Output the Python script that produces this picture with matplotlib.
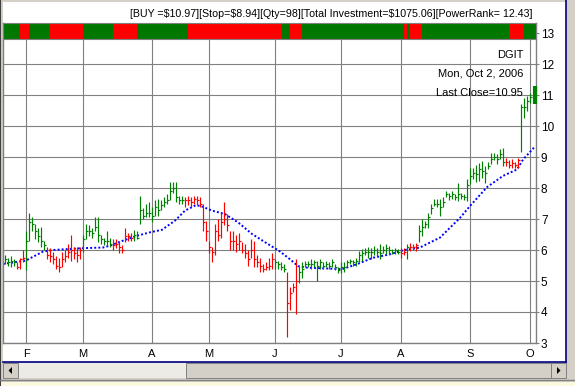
import numpy as np
import matplotlib
matplotlib.use('Agg')
import matplotlib.pyplot as plt
from matplotlib.patches import Rectangle, Polygon

W, H = 575, 386
plt.rcParams['font.family'] = ['Liberation Sans', 'DejaVu Sans']

# daily bars, Jan 23 2006 .. Oct 2 2006 (one entry per trading day)
highs = [5.85, 5.75, 5.8, 5.7, 5.6, 5.75, 6.0,
         6.6, 7.2, 7.05, 6.85, 6.7, 6.75, 6.3, 6.1, 6.05, 5.95, 5.8, 5.75, 5.95, 6.0, 6.2, 6.5, 6.1, 6.1, 6.1,
         6.5, 6.85, 6.8, 6.7, 7.05, 7.05, 6.5, 6.4, 6.6, 6.4, 6.35, 6.35, 6.3, 6.15, 6.7, 6.55, 6.55, 6.65, 6.6, 7.75, 7.35, 7.5, 7.55,
         7.4, 7.6, 7.65, 7.6, 7.7, 7.8, 8.2, 8.2, 8.2, 7.75, 7.75, 7.7, 7.75, 7.7, 7.75, 7.75, 7.7, 7.5, 6.95,
         6.3, 6.1, 6.85, 7.0, 7.2, 7.55, 7.15, 6.6, 6.6, 6.5, 6.55, 6.25, 6.2, 6.0, 6.35, 6.3, 5.85, 5.75, 5.55, 5.6, 5.75, 5.9,
         5.7, 5.65, 5.6, 5.55, 5.3, 4.8, 4.95, 5.7, 5.5, 5.6, 5.65, 5.65, 5.7, 5.67, 5.65, 5.7, 5.6, 5.65, 5.6, 5.7, 5.55, 5.45,
         5.6, 5.6, 5.68, 5.7, 5.68, 5.75, 5.97, 6.02, 6.07, 6.1, 6.07, 6.13, 6.07, 6.18, 6.13, 6.18, 6.13, 6.02, 6.07, 6.02,
         6.07, 6.05, 6.2, 6.24, 6.2, 6.24, 6.8, 7.0, 6.95, 7.2, 7.5, 7.63, 7.65, 7.63, 7.7, 7.9, 7.85, 7.9, 7.8, 8.17, 7.85, 7.8, 8.28,
         8.65, 8.65, 8.75, 8.82, 8.87, 8.7, 8.85, 9.14, 9.14, 9.1, 9.25, 9.3, 8.98, 8.9, 8.95, 8.85, 8.98, 10.7, 10.9, 10.97, 11.06]
lows = [5.55, 5.5, 5.45, 5.5, 5.4, 5.4, 5.6,
        5.35, 6.3, 6.6, 6.35, 6.25, 6.1, 6.0, 5.7, 5.6, 5.55, 5.4, 5.3, 5.45, 5.6, 5.75, 5.65, 5.7, 5.6, 5.7,
        5.95, 6.35, 6.45, 6.4, 6.6, 6.25, 6.2, 6.15, 6.15, 6.1, 6.0, 6.05, 5.9, 5.9, 6.25, 6.3, 6.3, 6.3, 6.35, 6.85, 7.0, 7.05, 7.05,
        6.9, 7.1, 7.1, 7.3, 7.4, 7.5, 7.6, 7.85, 7.55, 7.5, 7.5, 7.4, 7.45, 7.4, 7.5, 7.45, 7.4, 6.6, 6.3,
        5.9, 5.6, 5.85, 6.3, 6.4, 6.8, 6.6, 6.0, 6.0, 5.95, 6.0, 5.9, 5.75, 5.5, 5.75, 5.45, 5.45, 5.3, 5.3, 5.35, 5.35, 5.4,
        5.4, 5.4, 5.35, 5.3, 3.2, 4.05, 4.65, 3.95, 4.95, 5.1, 5.45, 5.45, 5.4, 5.45, 5.0, 5.4, 5.4, 5.45, 5.4, 5.45, 5.35, 5.25,
        5.25, 5.3, 5.45, 5.55, 5.5, 5.5, 5.6, 5.65, 5.85, 5.75, 5.7, 5.85, 5.8, 5.7, 5.9, 5.87, 5.87, 5.87, 5.87, 5.87,
        5.75, 5.85, 5.7, 5.97, 6.0, 5.97, 6.25, 6.45, 6.7, 6.72, 7.15, 7.42, 7.4, 7.1, 7.4, 7.7, 7.6, 7.65, 7.6, 7.58, 7.65, 7.6, 7.58,
        8.12, 8.3, 8.2, 8.22, 8.33, 8.17, 8.6, 8.76, 8.9, 8.76, 8.92, 8.7, 8.7, 8.65, 8.65, 8.65, 8.65, 9.15, 10.27, 10.48, 10.74]
closes = [5.7, 5.6, 5.65, 5.6, 5.45, 5.7, 5.75,
          6.3, 6.9, 6.85, 6.6, 6.45, 6.3, 6.15, 5.85, 5.8, 5.7, 5.5, 5.45, 5.7, 5.8, 5.95, 6.0, 5.9, 5.85, 6.0,
          6.35, 6.6, 6.6, 6.55, 6.75, 6.5, 6.35, 6.3, 6.3, 6.2, 6.15, 6.2, 6.1, 6.0, 6.45, 6.45, 6.4, 6.5, 6.4, 7.3, 7.1, 7.2, 7.2,
          7.1, 7.4, 7.3, 7.45, 7.55, 7.6, 7.9, 8.0, 7.7, 7.6, 7.6, 7.6, 7.6, 7.55, 7.65, 7.6, 7.5, 6.9, 6.6,
          6.1, 5.95, 6.6, 6.5, 6.9, 7.0, 6.8, 6.3, 6.3, 6.2, 6.3, 6.0, 5.9, 5.7, 6.0, 5.7, 5.6, 5.5, 5.4, 5.45, 5.5, 5.7,
          5.6, 5.55, 5.45, 5.4, 4.3, 4.6, 4.8, 5.0, 5.3, 5.4, 5.55, 5.55, 5.55, 5.6, 5.5, 5.6, 5.5, 5.55, 5.5, 5.6, 5.45, 5.35,
          5.45, 5.45, 5.6, 5.65, 5.6, 5.65, 5.85, 5.9, 5.95, 5.95, 5.95, 6.0, 5.95, 5.9, 6.0, 6.05, 6.0, 5.95, 6.0, 5.95,
          5.9, 5.95, 6.1, 6.1, 6.1, 6.15, 6.6, 6.75, 6.85, 7.05, 7.35, 7.5, 7.5, 7.4, 7.55, 7.8, 7.75, 7.8, 7.7, 7.8, 7.75, 7.7, 8.1,
          8.4, 8.5, 8.45, 8.6, 8.55, 8.5, 8.7, 8.95, 9.0, 8.95, 9.1, 8.85, 8.85, 8.75, 8.8, 8.75, 8.9, 10.6, 10.6, 10.8, 10.95]
# bar colour per day: g = up trend, r = down trend
bar_colors = ("ggggrrr"
              "gggggggrrrrrrrrrrrr"
              "ggggggggggrrrrrrrgggggg"
              "gggggggggggrrrrrrrr"
              "rrrrrrrrrrrrrrrrrrrrrr"
              "ggggrrrrgggggggggggggg"
              "gggggggggggggggggggg"
              "rrgrrrggggggggggggggggg"
              "ggggggggggggrrrrrgggg")

# last bar marker (thick bar on the right edge)
last_high, last_low = 11.3, 10.7

# moving average (dotted blue), read at bar positions
ma_pos = [-0.67, 7, 9.3, 12.7, 16, 26, 32.7, 35, 39.3, 44, 48.3, 52.3, 56.7, 60, 63.3, 65, 69, 73.3, 77.7,
          82.3, 86.7, 91.7, 95, 97.7, 100.7, 108.3, 112.3, 117.3, 122.7, 128.3, 132.7, 138.3, 145, 151.7,
          155, 160.7, 166, 170.7, 172.7, 176.3]
ma_val = [5.55, 5.66, 5.78, 5.95, 6.0, 6.06, 6.08, 6.14, 6.3, 6.46, 6.57, 6.65, 6.95, 7.27, 7.43, 7.43, 7.27, 7.16, 6.89,
          6.52, 6.25, 5.95, 5.7, 5.48, 5.43, 5.4, 5.38, 5.54, 5.75, 5.86, 5.99, 6.08, 6.4, 7.04,
          7.42, 8.03, 8.39, 8.6, 8.92, 9.3]

# signal strip on top
band_edges = [-0.67, 5, 8, 15, 26, 36, 44, 61, 92.3, 95, 99, 133, 134, 135, 139, 168, 173, 177]
band_colors = "grgrgrgrgrgrgrgrg"

month_pos = [7, 26, 49, 68, 90, 112, 132, 155, 175]
month_labels = ['F', 'M', 'A', 'M', 'J', 'J', 'A', 'S', 'O']

title = "[BUY =$10.97][Stop=$8.94][Qty=98][Total Investment=$1075.06][PowerRank= 12.43]"

GREEN = '#008000'
RED = '#ff0000'
GRID = '#808080'


def box(x0, y0, x1, y1):
    return [x0 / W, 1 - y1 / H, (x1 - x0) / W, (y1 - y0) / H]


fig = plt.figure(figsize=(W / 100, H / 100), dpi=100)
fig.patch.set_facecolor('#d4d0c8')

# window frame, panel and scrollbar
bg = fig.add_axes([0, 0, 1, 1])
bg.set_xlim(0, W)
bg.set_ylim(H, 0)
bg.axis('off')
bg.add_patch(Rectangle((3, 2), 563, 360, fc='white', ec='none'))
bg.plot([566, 566], [0, 362], color='#000080', lw=1.2)
bg.plot([3, 566], [362, 362], color='#000080', lw=1.2)
bg.plot([0, 0], [0, 386], color='#404040', lw=1.5)
bg.add_patch(Rectangle((18, 363), 533, 15, fc='#ecebe6', ec='none'))
bg.add_patch(Rectangle((186, 363), 365, 15, fc='#d4d0c8', ec='#808080', lw=0.7))
for bx in (3, 551):
    bg.add_patch(Rectangle((bx, 363), 15, 15, fc='#d4d0c8', ec='#808080', lw=0.7))
bg.add_patch(Polygon([[12, 367], [12, 374], [8.5, 370.5]], fc='black', ec='none'))
bg.add_patch(Polygon([[557, 367], [557, 374], [560.5, 370.5]], fc='black', ec='none'))
bg.plot([0, 575], [380, 380], color='#808080', lw=1)
bg.add_patch(Rectangle((0, 382), 575, 4, fc='#fbf8e0', ec='none'))

# main price chart
ax = fig.add_axes(box(3, 23, 536, 343))
ax.set_facecolor('white')
ax.set_xlim(-0.667, 177)
ax.set_ylim(3, 3 + 320 / 31)

x = np.arange(len(closes))
cols = [GREEN if c == 'g' else RED for c in bar_colors]
ax.vlines(x, lows, highs, colors=cols, lw=0.85, zorder=3)
ax.hlines(closes, x, x + 0.5, colors=cols, lw=0.85, zorder=3)
ax.plot(ma_pos, ma_val, color='#0000ff', lw=1.4, ls=(0, (1, 1.1)), zorder=2)
ax.vlines(len(closes) + 0.8, last_low, last_high, colors=GREEN, lw=3, clip_on=False, zorder=4)

ax.set_xticks(month_pos)
ax.set_xticklabels(month_labels, fontsize=8)
ax.set_yticks(range(3, 14))
ax.set_yticklabels([str(v) for v in range(3, 14)], fontsize=8.5)
ax.yaxis.tick_right()
ax.tick_params(axis='x', length=0, pad=4)
ax.tick_params(axis='y', length=2, color=GRID, pad=1.5)
ax.grid(True, color=GRID, lw=0.8)
ax.set_axisbelow(True)
for s in ('left', 'right', 'bottom'):
    ax.spines[s].set_color(GRID)
    ax.spines[s].set_linewidth(1.0)
ax.spines['top'].set_visible(False)

# signal strip
band = fig.add_axes(box(3, 23, 536, 39))
band.set_xlim(-0.667, 177)
band.set_ylim(0, 1)
for k, c in enumerate(band_colors):
    band.axvspan(band_edges[k], band_edges[k + 1], color='#007800' if c == 'g' else RED, lw=0)
band.set_xticks([])
band.set_yticks([])
for s in band.spines.values():
    s.set_color(GRID)
    s.set_linewidth(0.8)

fig.text(532 / W, 1 - 14 / H, title, ha='right', va='center', fontsize=7.7)
fig.text(523 / W, 1 - 55 / H, 'DGIT', ha='right', va='center', fontsize=8)
fig.text(523 / W, 1 - 73 / H, 'Mon, Oct 2, 2006', ha='right', va='center', fontsize=8)
fig.text(523 / W, 1 - 93 / H, 'Last Close=10.95', ha='right', va='center', fontsize=8)

fig.savefig('out.png', dpi=100, facecolor=fig.get_facecolor())
